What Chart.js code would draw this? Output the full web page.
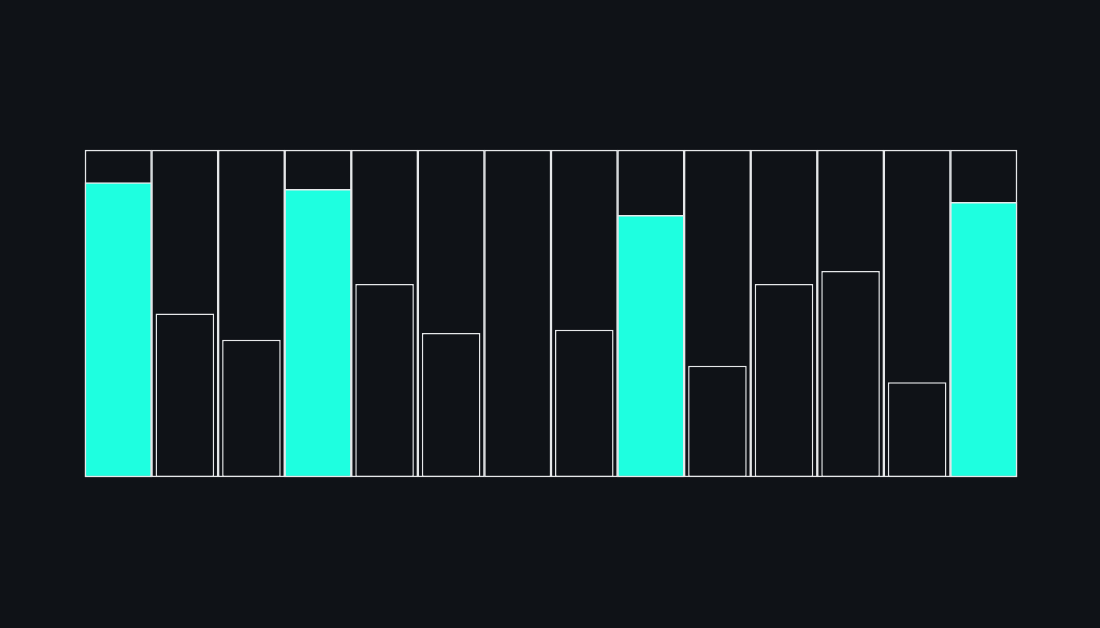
<!DOCTYPE html>
<html>
<head>
<meta charset="utf-8">
<script src="https://cdn.jsdelivr.net/npm/chart.js@4/dist/chart.umd.min.js"></script>
<style>
  html, body { margin: 0; padding: 0; background: #0f1217; }
  #wrap { width: 1100px; height: 628px; position: relative; }
</style>
</head>
<body>
<div id="wrap"><canvas id="c" width="1100" height="628"></canvas></div>
<script>
const categories = ["1","2","3","4","5","6","7","8","9","10","11","12","13","14"];
const values = [90, 50, 42, 88, 59, 44, 0, 45, 80, 34, 59, 63, 29, 84];
const highlighted = [true, false, false, true, false, false, false, false, true, false, false, false, false, true];
const maxValue = 100;

const highlightData = values.map((v, i) => highlighted[i] ? v : null);
const normalData = values.map((v, i) => highlighted[i] ? null : v);
const trackData = categories.map(() => maxValue);

const BG = '#0f1217';
const LINE = '#e6e8ea';
const CYAN = '#1effe0';

new Chart(document.getElementById('c'), {
  type: 'bar',
  data: {
    labels: categories,
    datasets: [
      {
        data: highlightData,
        backgroundColor: CYAN,
        borderColor: LINE,
        borderWidth: 1.5,
        borderSkipped: false,
        barPercentage: 1,
        categoryPercentage: 1,
        grouped: false,
        clip: false,
        order: 0
      },
      {
        data: normalData,
        backgroundColor: BG,
        borderColor: LINE,
        borderWidth: 1.5,
        borderSkipped: false,
        barPercentage: 0.88,
        categoryPercentage: 1,
        grouped: false,
        clip: false,
        order: 1
      },
      {
        data: trackData,
        backgroundColor: BG,
        borderColor: LINE,
        borderWidth: 1.5,
        borderSkipped: false,
        barPercentage: 1,
        categoryPercentage: 1,
        grouped: false,
        clip: false,
        order: 2
      }
    ]
  },
  options: {
    responsive: false,
    animation: false,
    layout: { padding: { left: 85, right: 83, top: 150, bottom: 151 } },
    plugins: { legend: { display: false }, tooltip: { enabled: false } },
    scales: {
      x: { display: false },
      y: { display: false, min: 0, max: maxValue }
    }
  },
  plugins: [{
    id: 'bg',
    beforeDraw(chart) {
      const ctx = chart.ctx;
      ctx.save();
      ctx.fillStyle = BG;
      ctx.fillRect(0, 0, chart.width, chart.height);
      ctx.restore();
    }
  }]
});
</script>
</body>
</html>
